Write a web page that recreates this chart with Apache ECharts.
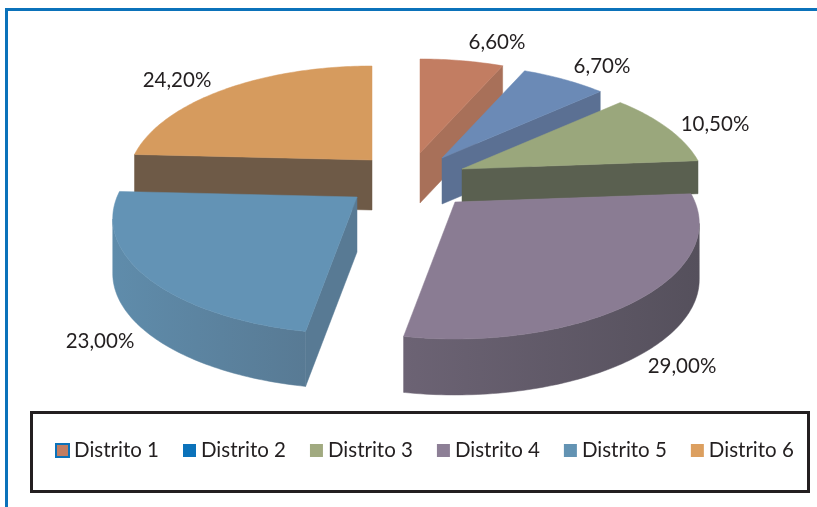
<!DOCTYPE html>
<html>
<head>
<meta charset="utf-8">
<title>Distritos</title>
<style>
  html, body { margin: 0; padding: 0; background: #fff; }
  #chart { width: 817px; height: 507px; }
</style>
<script src="https://cdn.jsdelivr.net/npm/echarts@6/dist/echarts.min.js"></script>
</head>
<body>
<div id="chart"></div>
<script>
var districts = ['Distrito 1', 'Distrito 2', 'Distrito 3', 'Distrito 4', 'Distrito 5', 'Distrito 6']
var shares = [6.6, 6.7, 10.5, 29, 23, 24.2]

// slice look
var legendColors = ['#c27d62', '#0b72ba', '#a1aa80', '#8d7f96', '#6393b3', '#dc9f5f']
var topColors = ['#c27d62', '#6b8ab6', '#9aa77c', '#8a7c93', '#6393b5', '#d69b5e']
var wallLeft = ['#a87059', '#6380a8', '#5a6050', '#6c6374', '#5f8cab', '#6e5a47']
var wallRight = ['#a87059', '#5b7093', '#5a6050', '#55505c', '#587a94', '#6e5a47']

// layout of the exploded slices: apex on screen and wall height
var apexX = [420, 442, 462, 455, 357, 372]
var apexY = [153, 158, 169, 202, 197, 160]
var depth = [50, 46, 33, 56, 55, 50]
var labelX = [497, 602, 715, 682, 100, 177]
var labelY = [42, 66, 124, 366, 341, 80]

// painter order, the front slices cover the back ones
var zOrder = [1, 2, 3, 4, 6, 5]

// perspective of the pie plane
var RX = 240
var RY = 111.5
var TILT = 0.186

var project = function (i, deg) {
  var a = deg * Math.PI / 180
  var u = Math.sin(a)
  var v = Math.cos(a)
  var k = 1 + TILT * v
  return [apexX[i] + RX * u / k, apexY[i] - RY * v / k]
}

var total = shares.reduce(function (s, v) { return s + v }, 0)

var startAngle = function (i) {
  var s = 0
  for (var j = 0; j < i; j++) s += shares[j]
  return s / total * 360
}

var down = function (p, h) { return [p[0], p[1] + h] }

var wallShape = function (pts, h) {
  var bottom = pts.map(function (p) { return down(p, h) }).reverse()
  return { points: pts.concat(bottom) }
}

var renderSlice = function (params, api) {
  var i = params.seriesIndex
  var a0 = startAngle(i)
  var a1 = a0 + api.value(0) / total * 360
  var h = depth[i]
  var apex = [apexX[i], apexY[i]]
  var arc = []
  for (var d = a0; d < a1; d += 1) arc.push(project(i, d))
  arc.push(project(i, a1))

  var children = []
  var shade = new echarts.graphic.LinearGradient(0, 0, 1, 0, [
    { offset: 0, color: wallLeft[i] },
    { offset: 1, color: wallRight[i] }
  ])
  var wall = function (pts, fill) {
    children.push({
      type: 'polygon',
      shape: wallShape(pts, h),
      style: { fill: fill, stroke: fill, lineWidth: 0.5 }
    })
  }

  // only faces turned to the viewer, an edge running right to left on screen
  var first = arc[0]
  var last = arc[arc.length - 1]
  if (first[0] < apex[0]) wall([first, apex], wallRight[i])
  if (last[0] > apex[0]) wall([last, apex], wallRight[i])
  var run = []
  for (var n = 0; n < arc.length; n++) {
    if (n > 0 && arc[n][0] < arc[n - 1][0]) {
      if (!run.length) run.push(arc[n - 1])
      run.push(arc[n])
    }
  }
  if (run.length) wall(run, shade)

  children.push({
    type: 'polygon',
    shape: { points: [apex].concat(arc) },
    style: { fill: topColors[i], stroke: topColors[i], lineWidth: 0.5 }
  })
  children.push({
    type: 'text',
    x: labelX[i],
    y: labelY[i],
    style: {
      text: api.value(0).toFixed(2).replace('.', ',') + '%',
      fill: '#231f20',
      font: '20.5px Lato',
      align: 'center',
      verticalAlign: 'middle'
    }
  })
  return { type: 'group', children: children }
}

var chart = echarts.init(document.getElementById('chart'), null, { renderer: 'canvas' })

chart.setOption({
  animation: false,
  backgroundColor: '#ffffff',
  graphic: [
    // the frame is cut by the right and bottom of the page
    {
      type: 'rect',
      shape: { x: 6.5, y: 9.5, width: 830, height: 520 },
      style: { fill: 'none', stroke: '#0b72ba', lineWidth: 3 },
      z: 0
    },
    {
      type: 'rect',
      shape: { x: 31.5, y: 412.5, width: 777, height: 79 },
      style: { fill: '#ffffff', stroke: '#231f20', lineWidth: 3 },
      z: 0
    }
  ],
  legend: {
    left: 55,
    top: 440,
    padding: 0,
    itemWidth: 13,
    itemHeight: 13,
    itemGap: 24,
    icon: 'rect',
    selectedMode: false,
    textStyle: { fontFamily: 'Lato', fontSize: 20.5, color: '#231f20' },
    data: districts.map(function (name, i) {
      return i === 0
        ? { name: name, itemStyle: { color: legendColors[i], borderColor: '#0b72ba', borderWidth: 2 } }
        : { name: name }
    })
  },
  series: districts.map(function (name, i) {
    return {
      type: 'custom',
      name: name,
      coordinateSystem: 'none',
      silent: true,
      z: zOrder[i],
      itemStyle: { color: legendColors[i] },
      renderItem: renderSlice,
      data: [[shares[i]]]
    }
  })
})
</script>
</body>
</html>
